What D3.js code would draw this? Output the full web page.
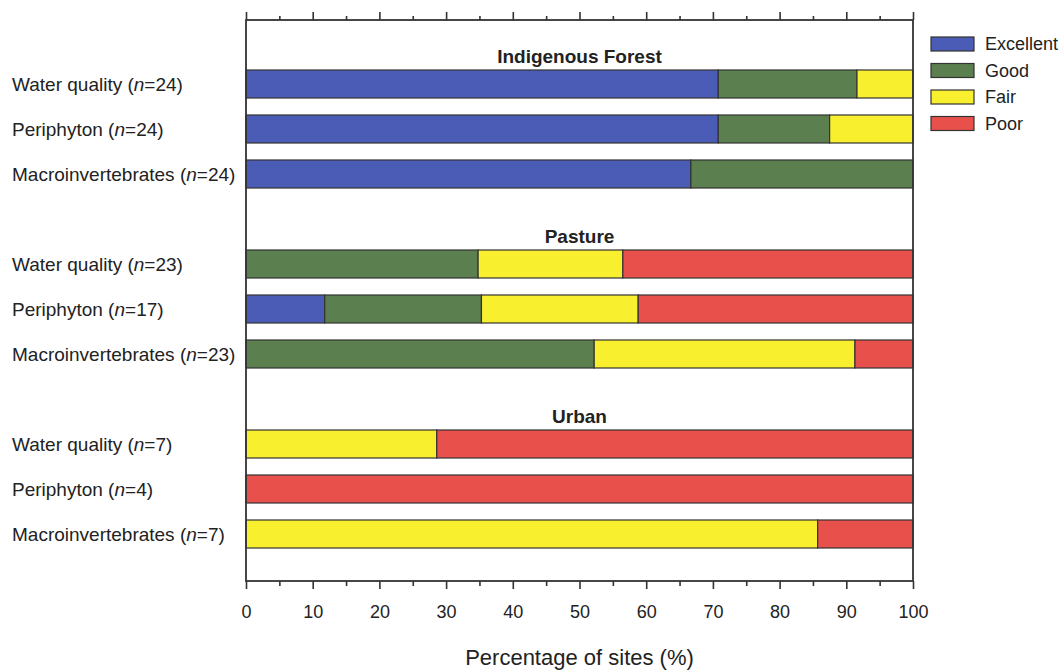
<!DOCTYPE html>
<html>
<head>
<meta charset="utf-8">
<script src="https://cdn.jsdelivr.net/npm/d3@7"></script>
<style>
  body { margin: 0; background: #fff; }
  svg text { font-family: "Liberation Sans", Arial, sans-serif; fill: #222; }
</style>
</head>
<body>
<svg id="chart" width="1063" height="670"></svg>
<script>
// Land-use groups and the indicators shown in each
const groups = ['Indigenous Forest', 'Pasture', 'Urban'];
const indicators = ['Water quality', 'Periphyton', 'Macroinvertebrates'];
const sampleSizes = [
  [24, 24, 24],
  [23, 17, 23],
  [7, 4, 7]
];
const classes = ['Excellent', 'Good', 'Fair', 'Poor'];
const classColors = ['#4b5cb6', '#5b7f4f', '#f8ef2e', '#e7504b'];

// Percentage of sites in each class (Excellent, Good, Fair, Poor)
const forestShares = [
  [70.8, 20.8, 8.4, 0],
  [70.8, 16.7, 12.5, 0],
  [66.7, 33.3, 0, 0]
];
const pastureShares = [
  [0, 34.8, 21.7, 43.5],
  [11.8, 23.5, 23.5, 41.2],
  [0, 52.2, 39.1, 8.7]
];
const urbanShares = [
  [0, 0, 28.6, 71.4],
  [0, 0, 0, 100],
  [0, 0, 85.7, 14.3]
];
const xTicks = [0, 10, 20, 30, 40, 50, 60, 70, 80, 90, 100];
const xMinorTicks = [5, 15, 25, 35, 45, 55, 65, 75, 85, 95];

const shares = [forestShares, pastureShares, urbanShares];

// Plot frame
const plotLeft = 246, plotRight = 913, plotTop = 20, plotBottom = 581;
const barHeight = 28;

const svg = d3.select('#chart');

const x = d3.scaleLinear().domain([0, 100]).range([plotLeft, plotRight]);
// one slot per row, with an empty slot between groups (holds the group title)
const y = d3.scaleLinear().domain([0, 10]).range([84, 534]);

// Build the rows: each row is a stack of class segments
const rows = [];
groups.forEach((g, gi) => {
  indicators.forEach((ind, ri) => {
    let acc = 0;
    const segs = classes.map((c, ci) => {
      const v = shares[gi][ri][ci];
      const s = { cls: c, color: classColors[ci], x0: acc, x1: acc + v };
      acc += v;
      return s;
    }).filter(s => s.x1 - s.x0 > 0);
    rows.push({ group: g, label: ind, n: sampleSizes[gi][ri], slot: gi * 4 + ri, segs });
  });
});

// Bars
const rowG = svg.selectAll('g.row')
  .data(rows)
  .enter()
  .append('g')
  .attr('class', 'row');

rowG.selectAll('rect')
  .data(d => d.segs.map(s => ({ ...s, slot: d.slot })))
  .enter()
  .append('rect')
  .attr('x', d => x(d.x0))
  .attr('y', d => y(d.slot) - barHeight / 2)
  .attr('width', d => x(d.x1) - x(d.x0))
  .attr('height', barHeight)
  .attr('fill', d => d.color)
  .attr('stroke', '#333')
  .attr('stroke-width', 1.2);

// Row labels with italic n
const lab = rowG.append('text')
  .attr('x', 12)
  .attr('y', d => y(d.slot))
  .attr('dy', '0.35em')
  .style('font-size', '19px');
lab.append('tspan').text(d => d.label + ' (');
lab.append('tspan').style('font-style', 'italic').text('n');
lab.append('tspan').text(d => '=' + d.n + ')');

// Group titles
svg.selectAll('text.group')
  .data(groups)
  .enter()
  .append('text')
  .attr('class', 'group')
  .attr('x', (plotLeft + plotRight) / 2)
  .attr('y', (d, i) => y(i * 4) - 28)
  .attr('dy', '0.35em')
  .attr('text-anchor', 'middle')
  .style('font-size', '19px')
  .style('font-weight', 'bold')
  .text(d => d);

// Frame
svg.append('rect')
  .attr('x', plotLeft)
  .attr('y', plotTop)
  .attr('width', plotRight - plotLeft)
  .attr('height', plotBottom - plotTop)
  .attr('fill', 'none')
  .attr('stroke', '#333')
  .attr('stroke-width', 1.8);

// Top axis (ticks only)
const topAxis = svg.append('g')
  .attr('transform', `translate(0,${plotTop})`)
  .call(d3.axisTop(x).tickValues(xTicks).tickSize(8).tickFormat(''));
const topMinor = svg.append('g')
  .attr('transform', `translate(0,${plotTop})`)
  .call(d3.axisTop(x).tickValues(xMinorTicks).tickSize(4).tickFormat(''));

// Bottom axis
const bottomAxis = svg.append('g')
  .attr('transform', `translate(0,${plotBottom})`)
  .call(d3.axisBottom(x).tickValues(xTicks).tickSize(8).tickPadding(16));
const bottomMinor = svg.append('g')
  .attr('transform', `translate(0,${plotBottom})`)
  .call(d3.axisBottom(x).tickValues(xMinorTicks).tickSize(5).tickFormat(''));

[topAxis, topMinor, bottomAxis, bottomMinor].forEach(a => {
  a.select('.domain').remove();
  a.selectAll('.tick line').attr('stroke', '#333').attr('stroke-width', 1.6);
});
bottomAxis.selectAll('.tick text')
  .style('font-size', '18px')
  .style('font-family', '"Liberation Sans", Arial, sans-serif')
  .attr('fill', '#222');

// Axis title
svg.append('text')
  .attr('x', (plotLeft + plotRight) / 2)
  .attr('y', 657)
  .attr('dy', '0.35em')
  .attr('text-anchor', 'middle')
  .style('font-size', '22px')
  .text('Percentage of sites (%)');

// Legend
const legend = svg.append('g').attr('transform', 'translate(931,44)');
const item = legend.selectAll('g')
  .data(classes)
  .enter()
  .append('g')
  .attr('transform', (d, i) => `translate(0,${i * 26.5})`);
item.append('rect')
  .attr('x', 0)
  .attr('y', -7)
  .attr('width', 43)
  .attr('height', 14)
  .attr('fill', (d, i) => classColors[i])
  .attr('stroke', '#333')
  .attr('stroke-width', 1.2);
item.append('text')
  .attr('x', 54)
  .attr('y', 0)
  .attr('dy', '0.35em')
  .style('font-size', '18px')
  .text(d => d);
</script>
</body>
</html>
